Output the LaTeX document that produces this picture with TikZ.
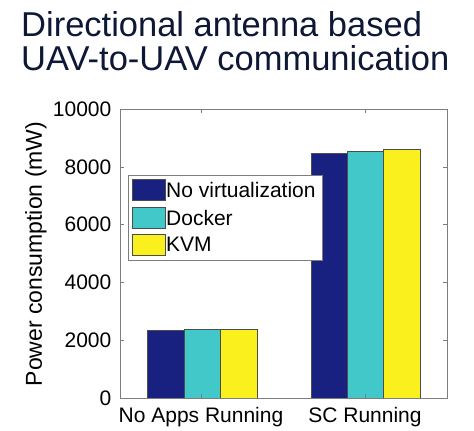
\documentclass[tikz,border=0pt]{standalone}
\usepackage{fontspec}
\setmainfont{Liberation Sans}
\usetikzlibrary{positioning}

\definecolor{navybar}{RGB}{24,32,128}
\definecolor{cyanbar}{RGB}{66,200,200}
\definecolor{yellowbar}{RGB}{250,240,30}
\definecolor{titleblue}{RGB}{14,24,54}
\definecolor{axisgray}{RGB}{125,125,125}

\tikzset{
  bar/.style={draw=black!70, line width=0.6pt},
  ticklab/.style={anchor=east, inner sep=1.5pt, font=\fontsize{21}{23}\selectfont},
  grouplab/.style={anchor=base, inner sep=0pt, font=\fontsize{21}{24}\selectfont},
  legtext/.style={anchor=west, inner sep=0pt, font=\fontsize{21}{24}\selectfont},
  titletext/.style={anchor=base west, inner sep=0pt, text=titleblue, font=\fontsize{34.5}{38}\selectfont}
}

\begin{document}
\begin{tikzpicture}[x=1pt, y=-1pt]
  \useasboundingbox (0,0) rectangle (474,431);

  % Title, two lines
  \node[titletext] (title1) at (21,36) {Directional antenna based};
  \node[titletext] (title2) at (21,70) {UAV-to-UAV communication};

  % Corners of the plot box
  \coordinate (BL) at (120,398);   % 0 mW
  \coordinate (TR) at (447,109);   % 10000 mW

  % Bars, group 1 (No Apps Running)
  \draw[bar, fill=navybar]   (147,398) rectangle (184,{398-2330*0.0289});
  \draw[bar, fill=cyanbar]   (184,398) rectangle (220,{398-2360*0.0289});
  \draw[bar, fill=yellowbar] (220,398) rectangle (257,{398-2380*0.0289});

  % Bars, group 2 (SC Running)
  \draw[bar, fill=navybar]   (311,398) rectangle (347,{398-8450*0.0289});
  \draw[bar, fill=cyanbar]   (347,398) rectangle (383,{398-8540*0.0289});
  \draw[bar, fill=yellowbar] (383,398) rectangle (420,{398-8610*0.0289});

  % Plot box and ticks
  \draw[axisgray, line width=0.6pt] (BL) rectangle (TR);
  \foreach \v in {0,2000,4000,6000,8000,10000} {
    \draw[axisgray, line width=0.6pt] (120,{398-\v*0.0289}) -- ++(4,0);
    \draw[axisgray, line width=0.6pt] (447,{398-\v*0.0289}) -- ++(-4,0);
    \node[ticklab] (tick\v) at (113,{398-\v*0.0289}) {\v};
  }
  \draw[axisgray, line width=0.6pt] (201,398) -- ++(0,-4);
  \draw[axisgray, line width=0.6pt] (365,398) -- ++(0,-4);
  \draw[axisgray, line width=0.6pt] (201,109) -- ++(0,4);
  \draw[axisgray, line width=0.6pt] (365,109) -- ++(0,4);

  % Axis labels
  \node[grouplab] (noapps) at (201,422) {No Apps Running};
  \node[grouplab] (scrun) at (365,422) {SC Running};
  \node[rotate=90, inner sep=0pt, font=\fontsize{23}{26}\selectfont] (ylabel) at (36,254) {Power consumption (mW)};

  % Legend
  \draw[axisgray, fill=white, line width=0.6pt] (128,175) rectangle (322,260);
  \draw[bar, fill=navybar]   (132,179) rectangle (165,200);
  \draw[bar, fill=cyanbar]   (132,207) rectangle (165,228);
  \draw[bar, fill=yellowbar] (132,234) rectangle (165,255);
  \node[legtext] (leg1) at (166,189.5) {No virtualization};
  \node[legtext] (leg2) at (166,217.5) {Docker};
  \node[legtext] (leg3) at (166,244.5) {KVM};
\end{tikzpicture}
\end{document}
